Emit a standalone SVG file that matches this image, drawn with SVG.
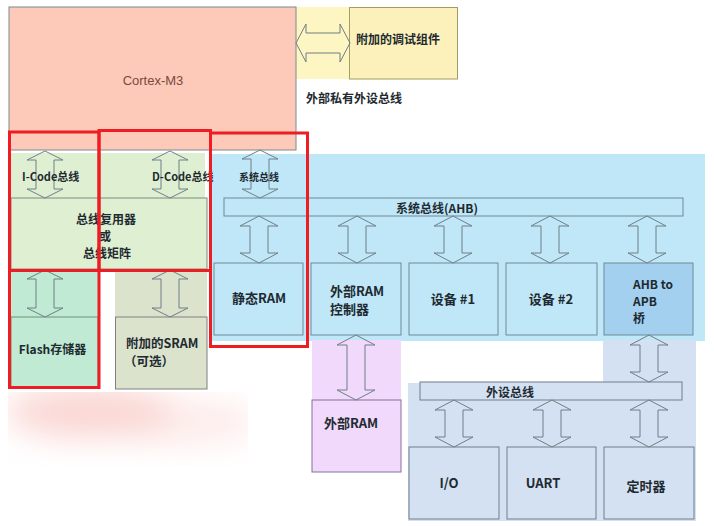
<svg xmlns="http://www.w3.org/2000/svg" width="714" height="526" viewBox="0 0 714 526">
<defs>
<style>
.t{font-family:"Noto Sans CJK SC","Noto Sans",sans-serif;font-weight:bold;fill:#1e2a30;dominant-baseline:central}
.c{text-anchor:middle}
.box{stroke:#7a8a90;stroke-width:1}
.arr{fill:none;stroke:#6f7f86;stroke-width:1}
.red{fill:none;stroke:#ee1d23;stroke-width:3}
</style>
<filter id="blur" x="-50%" y="-50%" width="200%" height="200%"><feGaussianBlur stdDeviation="16"/></filter>
<clipPath id="smc"><rect x="8" y="392" width="240" height="74"/></clipPath>
</defs>
<rect width="714" height="526" fill="#ffffff"/>

<g id="panels">
<rect x="296" y="7" width="54" height="72" fill="#fdf5c2"/>
<rect x="11" y="153" width="194" height="45" fill="#dff0d2"/>
<rect x="212" y="154" width="493" height="187" fill="#c0e7f8"/>
<rect x="11" y="269" width="87" height="48" fill="#c0ead3"/>
<rect x="115" y="269" width="92" height="48" fill="#dbe3cc"/>
<rect x="312" y="340" width="89" height="60" fill="#f0d9fb"/>
<rect x="603" y="340" width="93" height="43" fill="#d4e1f2"/>
<rect x="408" y="383" width="288" height="138" fill="#d4e1f2"/>
<g clip-path="url(#smc)">
<g filter="url(#blur)">
<ellipse cx="90" cy="412" rx="85" ry="26" fill="#f6b4ae" opacity="0.55"/>
<ellipse cx="185" cy="422" rx="75" ry="24" fill="#fbd6d3" opacity="0.45"/>
</g>
</g>
</g>

<g id="cortex"><rect class="box" x="9" y="7" width="287" height="143" fill="#fdc9b9" stroke="#8a8a8a"/>
<text x="153" y="80" text-anchor="middle" dominant-baseline="central" font-family="Liberation Sans, Arial, sans-serif" font-size="13" fill="#7a4a3c">Cortex-M3</text></g>

<g id="debug"><rect x="349.5" y="7.5" width="108" height="71.5" fill="#fcf1ba" stroke="#a49c64"/>
<text class="t c" x="398" y="38" font-size="12" fill="#3a3520">附加的调试组件</text></g>

<g id="ppb-label"><text class="t" x="306" y="97" font-size="12">外部私有外设总线</text></g>

<g id="busmatrix"><rect x="11" y="198" width="196" height="71" fill="#dff0d2" stroke="#7a8a80"/>
<text class="t c" x="106" y="218" font-size="12">总线复用器</text>
<text class="t c" x="105" y="235" font-size="12">或</text>
<text class="t c" x="107" y="252" font-size="12">总线矩阵</text></g>

<g id="flash"><rect x="11" y="317" width="87" height="71" fill="#c0ead3" stroke="#6f8f7a"/>
<text class="t c" x="52.5" y="348" font-size="12">Flash存储器</text></g>

<g id="sram"><rect x="115.5" y="317" width="91.5" height="72" fill="#dbe3cc" stroke="#808080"/>
<text class="t" x="126" y="342" font-size="12.5">附加的SRAM</text>
<text class="t" x="124" y="360" font-size="12.5">（可选）</text></g>

<g id="ahb-bus"><rect x="224" y="198" width="459" height="18" fill="#c0e7f8" stroke="#6f8a96"/>
<text class="t c" x="437" y="207" font-size="12">系统总线(AHB)</text></g>

<g id="sram-int"><rect x="214" y="263" width="89" height="72" fill="#c0e7f8" stroke="#6f8a96"/>
<text class="t c" x="259" y="297" font-size="13">静态RAM</text></g>

<g id="extram-ctrl"><rect x="311" y="263" width="90" height="72" fill="#c0e7f8" stroke="#6f8a96"/>
<text class="t" x="330" y="290" font-size="13">外部RAM</text>
<text class="t" x="330" y="308" font-size="13">控制器</text></g>

<g id="dev1"><rect x="409" y="263" width="89" height="72" fill="#c0e7f8" stroke="#6f8a96"/>
<text class="t c" x="453" y="298" font-size="13">设备 #1</text></g>

<g id="dev2"><rect x="506" y="263" width="91" height="72" fill="#c0e7f8" stroke="#6f8a96"/>
<text class="t c" x="551" y="298" font-size="13">设备 #2</text></g>

<g id="bridge"><rect x="604" y="263" width="89" height="72" fill="#a4d0f0" stroke="#6f8a96"/>
<text class="t" x="633" y="283" font-size="12">AHB to</text>
<text class="t" x="633" y="300" font-size="12">APB</text>
<text class="t" x="633" y="317" font-size="12">桥</text></g>

<g id="extram"><rect x="312" y="400" width="89" height="72" fill="#f0d9fb" stroke="#8a6f9a"/>
<text class="t" x="324" y="422" font-size="13">外部RAM</text></g>

<g id="apb-bus"><rect x="420" y="382" width="262" height="18" fill="#d4e1f2" stroke="#6f7f8a"/>
<text class="t c" x="510" y="391" font-size="12">外设总线</text></g>

<g id="io"><rect x="409" y="447" width="90" height="72" fill="#d4e1f2" stroke="#6f7f8a"/>
<text class="t c" x="449" y="482" font-size="13">I/O</text></g>

<g id="uart"><rect x="507" y="447" width="89" height="72" fill="#d4e1f2" stroke="#6f7f8a"/>
<text class="t c" x="543" y="482" font-size="13">UART</text></g>

<g id="timer"><rect x="604" y="447" width="90" height="72" fill="#d4e1f2" stroke="#6f7f8a"/>
<text class="t c" x="646" y="485" font-size="13">定时器</text></g>

<g id="connectors">
<path class="arr" d="M296,43 L306,24 L306,33 L340,33 L340,24 L350,43 L340,62 L340,53 L306,53 L306,62 Z" stroke="#9a9460"/>
<path class="arr" d="M45,151 L63,160 L54,160 L54,189 L63,189 L45,198 L27,189 L36,189 L36,160 L27,160 Z"/>
<path class="arr" d="M170,151 L188,160 L179,160 L179,189 L188,189 L170,198 L152,189 L161,189 L161,160 L152,160 Z"/>
<path class="arr" d="M260,150 L278,159 L269,159 L269,189 L278,189 L260,198 L242,189 L251,189 L251,159 L242,159 Z"/>
<path class="arr" d="M45,270 L63,279 L54,279 L54,308 L63,308 L45,317 L27,308 L36,308 L36,279 L27,279 Z"/>
<path class="arr" d="M170,270 L188,279 L179,279 L179,308 L188,308 L170,317 L152,308 L161,308 L161,279 L152,279 Z"/>
<path class="arr" d="M259,216 L278,226 L268,226 L268,253 L278,253 L259,263 L240,253 L250,253 L250,226 L240,226 Z"/>
<path class="arr" d="M357,216 L376,226 L366,226 L366,253 L376,253 L357,263 L338,253 L348,253 L348,226 L338,226 Z"/>
<path class="arr" d="M453,216 L472,226 L462,226 L462,253 L472,253 L453,263 L434,253 L444,253 L444,226 L434,226 Z"/>
<path class="arr" d="M550,216 L569,226 L559,226 L559,253 L569,253 L550,263 L531,253 L541,253 L541,226 L531,226 Z"/>
<path class="arr" d="M647,216 L666,226 L656,226 L656,253 L666,253 L647,263 L628,253 L638,253 L638,226 L628,226 Z"/>
<path class="arr" d="M356,335 L375,345 L365,345 L365,390 L375,390 L356,400 L337,390 L347,390 L347,345 L337,345 Z"/>
<path class="arr" d="M649,335 L668,345 L658,345 L658,372 L668,372 L649,382 L630,372 L640,372 L640,345 L630,345 Z"/>
<path class="arr" d="M454,400 L473,410 L463,410 L463,437 L473,437 L454,447 L435,437 L445,437 L445,410 L435,410 Z"/>
<path class="arr" d="M552,400 L571,410 L561,410 L561,437 L571,437 L552,447 L533,437 L543,437 L543,410 L533,410 Z"/>
<path class="arr" d="M649,400 L668,410 L658,410 L658,437 L668,437 L649,447 L630,437 L640,437 L640,410 L630,410 Z"/>
</g>

<g id="bus-labels">
<text class="t" x="22" y="176" font-size="11">I-Code总线</text>
<text class="t" x="152" y="176" font-size="11">D-Code总线</text>
<text class="t c" x="259" y="176" font-size="10" font-weight="normal">系统总线</text>
</g>

<g id="highlights">
<rect class="red" x="9.5" y="132" width="89.5" height="138.5"/>
<rect class="red" x="99" y="130.5" width="111.5" height="140"/>
<rect class="red" x="9.5" y="270.5" width="89.5" height="117"/>
<rect class="red" x="210.5" y="133" width="97" height="213.5"/>
</g>
</svg>
